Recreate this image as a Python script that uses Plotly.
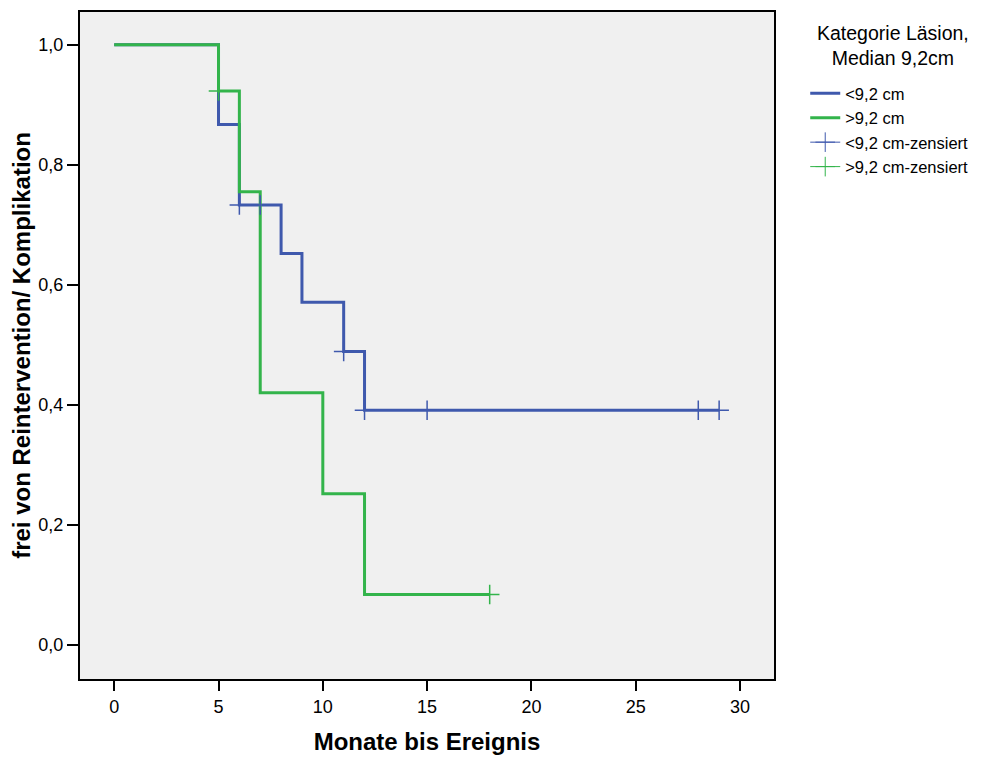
import plotly.graph_objects as go

# Kaplan-Meier step data
blue_t = [0, 5, 6, 8, 9, 11, 12, 29]
blue_s = [1.0, 0.867, 0.733, 0.652, 0.571, 0.489, 0.391, 0.391]
blue_cens_t = [6, 7, 11, 12, 15, 28, 29]
blue_cens_s = [0.733, 0.733, 0.489, 0.391, 0.391, 0.391, 0.391]

green_t = [0, 5, 6, 7, 10, 12, 18]
green_s = [1.0, 0.923, 0.755, 0.42, 0.252, 0.084, 0.084]
green_cens_t = [5, 18]
green_cens_s = [0.923, 0.084]

names = ["<9,2 cm", ">9,2 cm", "<9,2 cm-zensiert", ">9,2 cm-zensiert"]
legend_title = "Kategorie Läsion,<br>Median 9,2cm"
x_ticks = [0, 5, 10, 15, 20, 25, 30]
y_ticks = [0.0, 0.2, 0.4, 0.6, 0.8, 1.0]

BLUE = "#3F59AD"
GREEN = "#33B44B"
FONT = "Liberation Sans, Arial, sans-serif"

fig = go.Figure()
fig.add_trace(go.Scatter(x=blue_t, y=blue_s, mode="lines", line=dict(color=BLUE, width=3, shape="hv"),
                         name=names[0]))
fig.add_trace(go.Scatter(x=green_t, y=green_s, mode="lines", line=dict(color=GREEN, width=3, shape="hv"),
                         name=names[1]))
fig.add_trace(go.Scatter(x=blue_cens_t, y=blue_cens_s, mode="markers", showlegend=False,
                         marker=dict(symbol="cross-thin", size=14, color=BLUE, line=dict(width=1.5, color=BLUE))))
fig.add_trace(go.Scatter(x=green_cens_t, y=green_cens_s, mode="markers", showlegend=False,
                         marker=dict(symbol="cross-thin", size=14, color=GREEN, line=dict(width=1.5, color=GREEN))))
# legend entries for censored
fig.add_trace(go.Scatter(x=[None], y=[None], mode="lines+markers", name=names[2],
                         line=dict(color=BLUE, width=1),
                         marker=dict(symbol="cross-thin", size=14, color=BLUE, line=dict(width=1, color=BLUE))))
fig.add_trace(go.Scatter(x=[None], y=[None], mode="lines+markers", name=names[3],
                         line=dict(color=GREEN, width=1),
                         marker=dict(symbol="cross-thin", size=14, color=GREEN, line=dict(width=1, color=GREEN))))

fig.add_annotation(
    text=legend_title, xref="paper", yref="paper", x=1.1715, y=0.95,
    xanchor="center", yanchor="middle", align="center", showarrow=False,
    font=dict(size=19.5, family=FONT, color="black"),
)

fig.update_layout(
    width=993, height=760,
    margin=dict(l=72, r=227, t=4, b=89, autoexpand=False),
    paper_bgcolor="white", plot_bgcolor="#F0F0F0",
    separators=",.",
    font=dict(family=FONT, color="black", size=18),
    legend=dict(
        x=1.045, y=0.904, xanchor="left", yanchor="top",
        font=dict(size=16.5), itemwidth=30, tracegroupgap=0, bgcolor="rgba(0,0,0,0)",
    ),
    showlegend=True,
)
fig.update_xaxes(
    range=[-1.64, 31.63], tickvals=x_ticks, ticks="outside", ticklen=10, tickwidth=2, tickcolor="black",
    showgrid=False, zeroline=False, showline=True, linecolor="black", linewidth=2, mirror=True,
    tickfont=dict(size=18),
    title=dict(text="<b>Monate bis Ereignis</b>", font=dict(size=24), standoff=18),
)
fig.update_yaxes(
    range=[-0.0567, 1.0545], tickvals=y_ticks, tickformat=".1f", ticks="outside", ticklen=11, tickwidth=2,
    tickcolor="black", showgrid=False, zeroline=False, showline=True, linecolor="black", linewidth=2,
    mirror=True, tickfont=dict(size=18),
    title=dict(text="<b>frei von Reintervention/ Komplikation</b>", font=dict(size=24), standoff=6),
)

fig.write_html("out.html")
